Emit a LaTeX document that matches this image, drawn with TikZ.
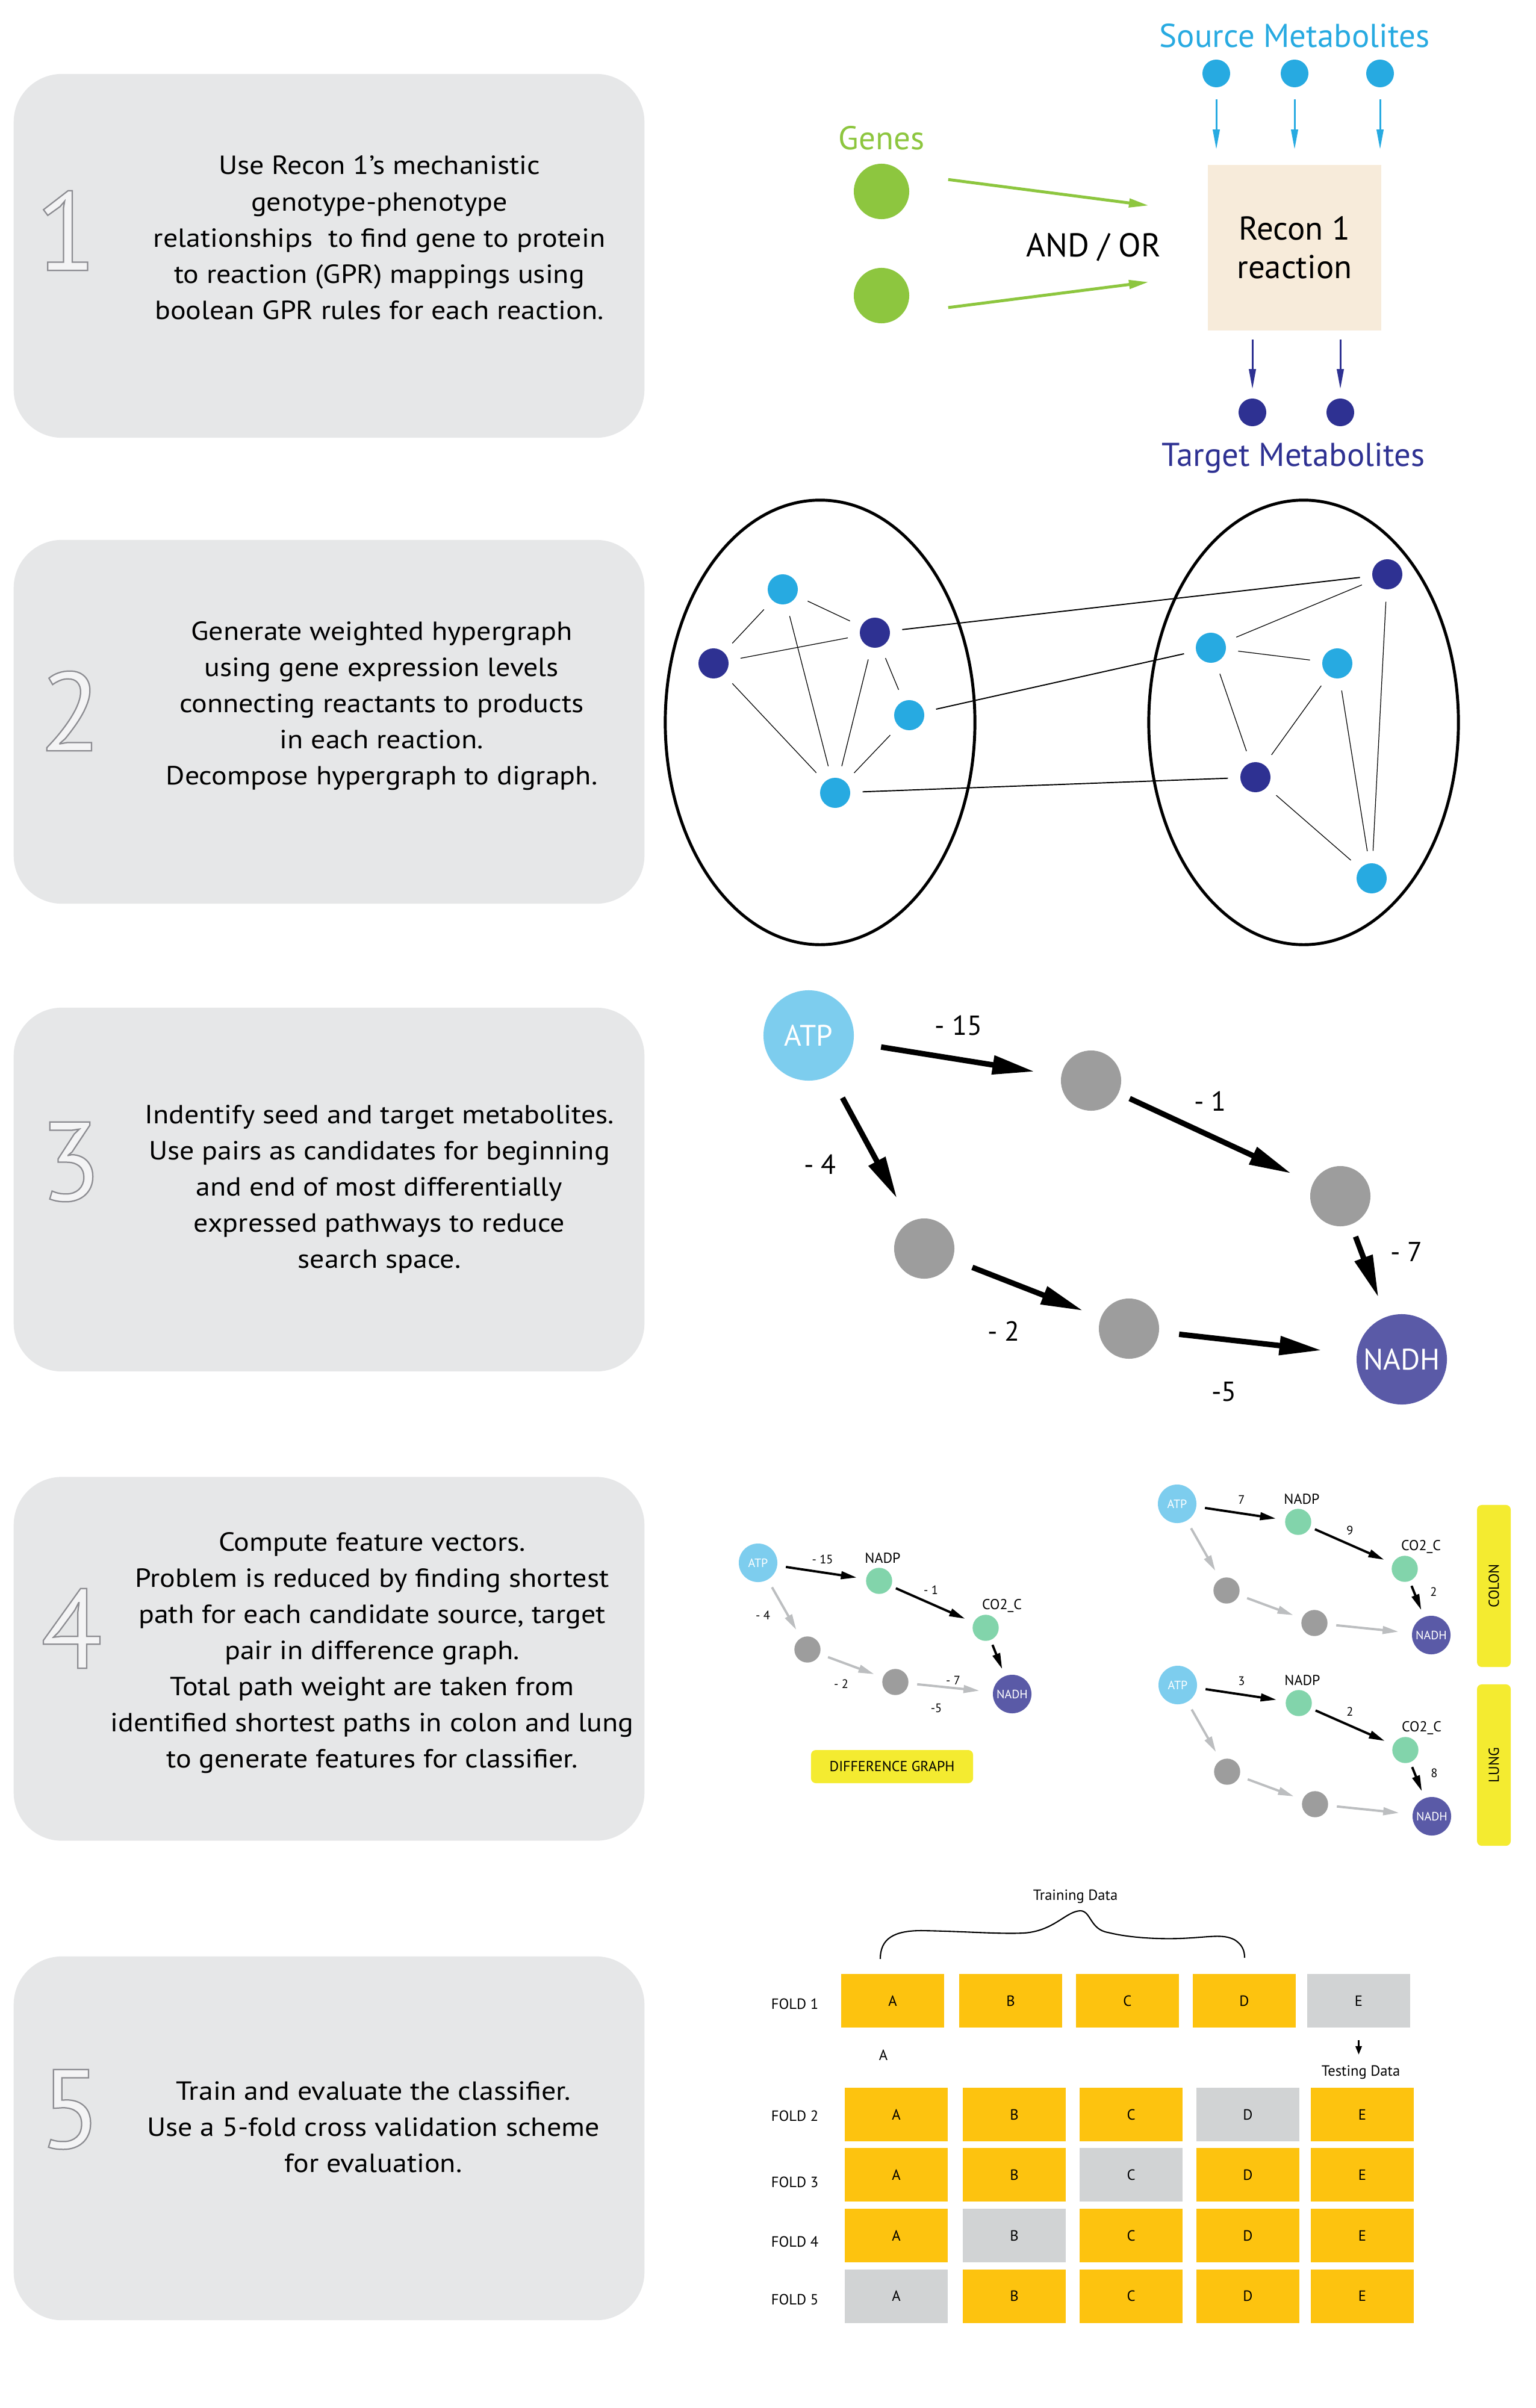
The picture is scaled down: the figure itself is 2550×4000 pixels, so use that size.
\documentclass[tikz,border=0pt]{standalone}
\usepackage{fontspec}
\setmainfont{PT Sans}
\newfontfamily\numfont[FakeBold=1.2]{PT Sans}
\newfontfamily\bodyfont[FakeStretch=1.1]{PT Sans}
\usetikzlibrary{arrows.meta,calc,shapes.geometric}
\definecolor{boxgray}{HTML}{E6E7E8}
\definecolor{cyanm}{HTML}{27AAE1}
\definecolor{navym}{HTML}{2E3192}
\definecolor{genegreen}{HTML}{8DC63F}
\definecolor{beige}{HTML}{F7EBDA}
\definecolor{atpblue}{HTML}{7DCDEE}
\definecolor{nodegray}{HTML}{9D9D9D}
\definecolor{nadhblue}{HTML}{5A5AA7}
\definecolor{mint}{HTML}{82D4AB}
\definecolor{arrgray}{HTML}{BCBEC0}
\definecolor{labyellow}{HTML}{F4EB30}
\definecolor{tileyellow}{HTML}{FDC30F}
\definecolor{tilegray}{HTML}{D1D3D4}
\newcommand\lns[1]{\begin{tabular}[t]{@{}c@{}}#1\end{tabular}}
\newcommand\outnum[1]{\special{pdf:literal direct 0.955 0.955 0.96 rg 0.55 0.55 0.57 RG}{\numfont #1}\special{pdf:literal direct 0 0 0 rg 0 0 0 RG}}
\newcommand\smallgraph[3]{%
\begin{scope}[shift={(#2,#3)}]
\node[sbig, fill=atpblue] (#1atp) at (1955,2498) {ATP};
\node[ssmall, fill=mint] (#1nadp) at (2156,2528) {};
\node[ssmall, fill=mint] (#1co) at (2333,2606) {};
\node[ssmall, fill=nodegray] (#1ga) at (2037,2642) {};
\node[ssmall, fill=nodegray] (#1gb) at (2183,2696) {};
\node[sbig, fill=nadhblue] (#1nadh) at (2377,2716) {NADH};
\node[slab] (#1nadplab) at (2162,2498) {NADP};
\node[slab] (#1colab) at (2360,2575) {CO2\_C};
\draw[sblack] (#1atp) -- (#1nadp);
\draw[sblack, shorten <=0.08cm] (#1nadp) -- (#1co);
\draw[sblack, shorten <=0.08cm, shorten >=0.12cm] (#1co) -- (#1nadh);
\draw[sgray] (#1atp) -- (#1ga);
\draw[sgray] (#1ga) -- (#1gb);
\draw[sgray, shorten >=0.22cm] (#1gb) -- (#1nadh);
\end{scope}}
\begin{document}
\begin{tikzpicture}[x=0.01cm,y=-0.01cm,
  panel/.style={fill=boxgray, rounded corners=0.8cm, minimum width=10.47cm, minimum height=6.04cm, inner sep=0},
  boxtxt/.style={font=\bodyfont\fontsize{12.4}{17.07}\selectfont, anchor=base, inner sep=0},
  bignum/.style={font=\fontsize{53}{60}\selectfont, inner sep=0},
  title/.style={font=\fontsize{15.6}{18.2}\selectfont, anchor=base, inner sep=0},
  met/.style={circle, minimum size=0.46cm, inner sep=0},
  gene/.style={circle, fill=genegreen, minimum size=0.92cm, inner sep=0},
  thinarr/.style={line width=0.85pt, -{Triangle[length=9.4pt,width=3.2pt]}},
  garr/.style={draw=genegreen, line width=1.4pt, -{Triangle[length=9.4pt,width=4pt]}},
  hnode/.style={circle, minimum size=0.5cm, inner sep=0},
  hedge/.style={line width=0.35pt, shorten <=0.2cm, shorten >=0.2cm},
  hlong/.style={line width=0.55pt, shorten <=0.2cm, shorten >=0.2cm},
  hull/.style={ellipse, draw, line width=1.4pt, minimum width=5.14cm, minimum height=7.38cm, inner sep=0},
  bnode/.style={circle, fill=nodegray, minimum size=1.0cm, inner sep=0},
  bterm/.style={circle, minimum size=1.5cm, inner sep=0, text=white, font=\fontsize{14}{16}\selectfont},
  barr/.style={line width=2.6pt, -{Triangle[length=20pt,width=8.5pt]}},
  wlab/.style={font=\fontsize{13}{15}\selectfont, anchor=base, inner sep=0},
  sbig/.style={circle, minimum size=0.64cm, inner sep=0, text=white, font=\fontsize{5.7}{7}\selectfont},
  ssmall/.style={circle, minimum size=0.434cm, inner sep=0},
  slab/.style={font=\fontsize{6.8}{8}\selectfont, anchor=base, inner sep=0},
  swt/.style={font=\fontsize{5.8}{7}\selectfont, inner sep=0},
  sblack/.style={line width=1.1pt, -{Triangle[length=7.5pt,width=3.6pt]}, shorten <=0.14cm, shorten >=0.15cm},
  sgray/.style={sblack, draw=arrgray},
  ylab/.style={fill=labyellow, rounded corners=0.08cm, inner sep=0, font=\fontsize{6.8}{8}\selectfont},
  tile/.style={minimum width=1.71cm, minimum height=0.89cm, inner sep=0, font=\fontsize{7}{8}\selectfont},
  ftxt/.style={font=\fontsize{7}{8}\selectfont, anchor=base, inner sep=0}
]
\useasboundingbox (0,0) rectangle (2550,4000);
% ---------- panels ----------
\node[panel] (box1) at (546.5,425) {};
\node[panel] (box2) at (546.5,1199) {};
\node[panel] (box3) at (546.5,1976) {};
\node[panel] (box4) at (546.5,2755.5) {};
\node[panel] (box5) at (546.5,3552) {};
\node[bignum] (n1) at (110,383) {\outnum{1}};
\node[bignum] (n2) at (117,1181) {\outnum{2}};
\node[bignum] (n3) at (117,1930) {\outnum{3}};
\node[bignum] (n4) at (119,2705) {\outnum{4}};
\node[bignum] (n5) at (117,3504) {\outnum{5}};
\node[boxtxt] (txt1) at (630,290) {\lns{Use Recon 1’s mechanistic\\genotype-phenotype\\relationships\ \ to find gene to protein\\to reaction (GPR) mappings using\\boolean GPR rules for each reaction.}};
\node[boxtxt] (txt2) at (634,1063) {\lns{Generate weighted hypergraph\\using gene expression levels\\connecting reactants to products\\in each reaction.\\Decompose hypergraph to digraph.}};
\node[boxtxt] (txt3) at (630,1866) {\lns{Indentify seed and target metabolites.\\Use pairs as candidates for beginning\\and end of most differentially\\expressed pathways to reduce\\search space.}};
\node[boxtxt] (txt4) at (618,2576) {\lns{Compute feature vectors.\\Problem is reduced by finding shortest\\path for each candidate source, target\\pair in difference graph.\\Total path weight are taken from\\identified shortest paths in colon and lung\\to generate features for classifier.}};
\node[boxtxt] (txt5) at (620,3488) {\lns{Train and evaluate the classifier.\\Use a 5-fold cross validation scheme\\for evaluation.}};
% ---------- step 1 ----------
\node[title, text=genegreen] (geneslab) at (1464,249) {Genes};
\node[gene] (g1) at (1464,318) {};
\node[gene] (g2) at (1464,491) {};
\node[title] (andor) at (1816,426) {AND / OR};
\node[fill=beige, minimum width=2.88cm, minimum height=2.75cm, inner sep=0, align=center, font=\fontsize{15.6}{18.2}\selectfont] (recon) at (2150,411.5) {Recon 1\\reaction};
\node[title, text=cyanm] (srclab) at (2150,79) {Source Metabolites};
\node[met, fill=cyanm] (s1) at (2020,122) {};
\node[met, fill=cyanm] (s2) at (2150,122) {};
\node[met, fill=cyanm] (s3) at (2292,122) {};
\node[met, fill=navym] (tm1) at (2080,685) {};
\node[met, fill=navym] (tm2) at (2226,685) {};
\node[title, text=navym] (tgtlab) at (2148,774) {Target Metabolites};
\foreach \s in {s1,s2,s3}
  \draw[thinarr, draw=cyanm, shorten <=0.19cm, shorten >=0.25cm] (\s) -- (\s |- recon.north);
\foreach \t in {tm1,tm2}
  \draw[thinarr, draw=navym, shorten <=0.14cm, shorten >=0.15cm] (\t |- recon.south) -- (\t);
\draw[garr, shorten <=0.75cm, shorten >=0.98cm] (g1.39) -- ([yshift=0.575cm]recon.west);
\draw[garr, shorten <=0.75cm, shorten >=0.98cm] (g2.-39) -- ([yshift=-0.445cm]recon.west);
% ---------- step 2 ----------
\node[hull] (hl) at (1362,1200) {};
\node[hull] (hr) at (2165,1200) {};
\node[hnode, fill=cyanm] (L1) at (1300,979) {};
\node[hnode, fill=navym] (L2) at (1453,1051) {};
\node[hnode, fill=navym] (L3) at (1185,1102) {};
\node[hnode, fill=cyanm] (L4) at (1510,1188) {};
\node[hnode, fill=cyanm] (L5) at (1387,1317) {};
\node[hnode, fill=navym] (R1) at (2304,954) {};
\node[hnode, fill=cyanm] (R2) at (2011,1076) {};
\node[hnode, fill=cyanm] (R3) at (2221,1102) {};
\node[hnode, fill=navym] (R4) at (2085,1291) {};
\node[hnode, fill=cyanm] (R5) at (2278,1459) {};
\foreach \a/\b in {L1/L2,L1/L3,L1/L5,L3/L2,L3/L5,L2/L5,L2/L4,L4/L5,R1/R2,R1/R5,R2/R3,R2/R4,R3/R4,R3/R5,R4/R5}
  \draw[hedge] (\a) -- (\b);
\foreach \a/\b in {L2/R1,L4/R2,L5/R4}
  \draw[hlong] (\a) -- (\b);
% ---------- step 3 ----------
\node[bterm, fill=atpblue] (atp) at (1343,1720) {ATP};
\node[bnode] (p1) at (1812,1795) {};
\node[bnode] (p2) at (2226,1987) {};
\node[bnode] (p3) at (1535,2074) {};
\node[bnode] (p4) at (1875,2207) {};
\node[bterm, fill=nadhblue] (nadh) at (2328,2258) {NADH};
\draw[barr, shorten <=0.46cm, shorten >=0.44cm] (atp) -- (p1);
\draw[barr, shorten <=0.2cm, shorten >=0.39cm] (p1) -- (p2);
\draw[barr, shorten <=0.42cm, shorten >=0.44cm] (atp) -- (p3);
\draw[barr, shorten <=0.35cm, shorten >=0.31cm] (p3) -- (p4);
\draw[barr, shorten <=0.21cm, shorten >=0.34cm] (p2) -- (nadh);
\draw[barr, shorten <=0.33cm, shorten >=0.58cm] (p4) -- (nadh);
\node[wlab] (w15) at (1592,1719) {- 15};
\node[wlab] (w1) at (2010,1845) {- 1};
\node[wlab] (w4) at (1362,1950) {- 4};
\node[wlab] (w7) at (2336,2095) {- 7};
\node[wlab] (w2) at (1667,2227) {- 2};
\node[wlab] (w5) at (2033,2327) {-5};
% ---------- step 4 ----------
\smallgraph{d}{-696}{98}
\smallgraph{c}{0}{0}
\smallgraph{l}{1}{301}
\node[swt] (dw15) at (1366,2590) {- 15};
\node[swt] (dw1) at (1546,2641) {- 1};
\node[swt] (dw4) at (1267,2683) {- 4};
\node[swt] (dw2) at (1397,2797) {- 2};
\node[swt] (dw7) at (1583,2791) {- 7};
\node[swt] (dw5) at (1555,2837) {-5};
\node[swt] (cw7) at (2062,2491) {7};
\node[swt] (cw9) at (2242,2542) {9};
\node[swt] (cw2) at (2381,2644) {2};
\node[swt] (lw3) at (2062,2792) {3};
\node[swt] (lw2) at (2242,2843) {2};
\node[swt] (lw8) at (2382,2945) {8};
\node[ylab, minimum width=2.69cm, minimum height=0.55cm] (diffg) at (1481.5,2934.5) {DIFFERENCE GRAPH};
\node[ylab, rotate=90, minimum width=2.69cm, minimum height=0.56cm] (colon) at (2481,2634.5) {COLON};
\node[ylab, rotate=90, minimum width=2.68cm, minimum height=0.56cm] (lung) at (2481,2932) {LUNG};
% ---------- step 5 ----------
\node[ftxt] (train) at (1786,3156) {Training Data};
\draw[line width=0.6pt] (1462,3254) .. controls (1462,3220) and (1485,3207) .. (1530,3207)
  .. controls (1600,3208) and (1660,3213) .. (1700,3211)
  .. controls (1750,3208) and (1770,3175) .. (1794,3174)
  .. controls (1812,3174) and (1810,3205) .. (1840,3210)
  .. controls (1880,3220) and (1930,3221) .. (1960,3220)
  .. controls (2010,3218) and (2030,3212) .. (2050,3222)
  .. controls (2063,3230) and (2067,3240) .. (2067,3252);
\node[ftxt] (f1) at (1320,3337) {FOLD 1};
\foreach \c/\xx/\L in {1/1482.5/A,2/1678.5/B,3/1872.5/C,4/2066.5/D}
  \node[tile, fill=tileyellow] (t1\c) at (\xx,3323.5) {\L};
\node[tile, fill=tilegray] (t15) at (2256.5,3323.5) {E};
\node[ftxt] (belowA) at (1467,3422) {A};
\node[ftxt] (testing) at (2260,3448) {Testing Data};
\draw[line width=0.7pt, -{Triangle[length=4pt,width=3pt]}, shorten <=0.2cm, shorten >=0.17cm] (t15.south) -- (t15.south |- testing.north);
\foreach \r/\yy/\lb in {2/3523/3512.5,3/3633/3612.5,4/3732/3713.5,5/3828/3814}{
  \node[ftxt] (f\r) at (1320,\yy) {FOLD \r};
  \foreach \c/\xx/\L in {1/1488.5/A,2/1684.5/B,3/1878.5/C,4/2072.5/D,5/2262.5/E}{
    \ifnum\c=\numexpr6-\r\relax\def\tc{tilegray}\else\def\tc{tileyellow}\fi
    \node[tile, fill=\tc] (t\r\c) at (\xx,\lb) {\L};
  }
}
\end{tikzpicture}
\end{document}
